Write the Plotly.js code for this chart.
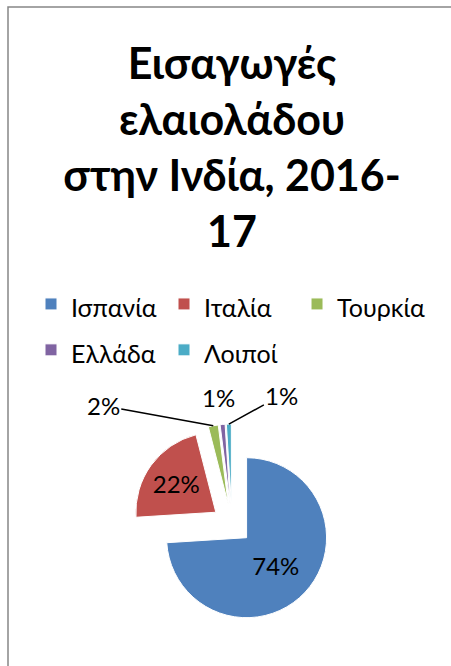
<!DOCTYPE html>
<html>
<head>
<meta charset="utf-8">
<script src="https://cdn.plot.ly/plotly-3.0.1.min.js"></script>
<style>
  html, body { margin: 0; padding: 0; background: #fff; }
  #chart { width: 451px; height: 666px; }
</style>
</head>
<body>
<div id="chart"></div>
<script>
// olive oil imports into India, 2016-17 (share %)
const countries = ['Ισπανία', 'Ιταλία', 'Τουρκία', 'Ελλάδα', 'Λοιποί'];
const shares = [74, 22, 2, 1, 1];
const sliceColors = ['#4F81BD', '#C0504D', '#9BBB59', '#8064A2', '#4BACC6'];
const labelPos = ['inside', 'inside', 'none', 'none', 'none'];

const W = 451, H = 666;
const fontFamily = 'Lato, "Open Sans", "Noto Sans", sans-serif';

// pie center and size in pixels, turned into paper fractions below
const cx = 232, cy = 524, half = 100;
const pull = 0.25;
const radius = half / (1 + pull);

// leader-line label offsets (px) for the thin slices, like excel puts them
const calloutOffsets = [null, null, [-110, -20], [-4, -27], [53, -29]];

const total = shares.reduce((a, b) => a + b, 0);
const callouts = [];
let cum = 0;
shares.forEach((v, i) => {
  const mid = (cum + v / 2) / total * 2 * Math.PI;
  cum += v;
  const off = calloutOffsets[i];
  if (!off) return;
  // outer tip of the pulled slice
  const px = cx + (radius + radius * pull) * Math.sin(mid);
  const py = cy - (radius + radius * pull) * Math.cos(mid);
  const a = {
    x: px / W, y: 1 - py / H, xref: 'paper', yref: 'paper',
    text: Math.round(v / total * 100) + '%',
    font: { family: fontFamily, size: 24, color: '#000' },
    showarrow: true, arrowhead: 0, arrowwidth: 1.5, arrowcolor: '#000',
    ax: off[0], ay: off[1], standoff: 0
  };
  if (countries[i] === 'Ελλάδα') a.arrowcolor = 'rgba(0,0,0,0)';
  callouts.push(a);
});

// legend rows in the original are spaced wider than plotly's default,
// so the legend font is big and the label text itself is set smaller
const legendLabels = countries.map(c => '<span style="font-size:25px">' + c + '</span>');

Plotly.newPlot('chart', [{
  type: 'pie',
  labels: legendLabels,
  values: shares,
  sort: false,
  direction: 'clockwise',
  rotation: 0,
  pull: pull,
  marker: { colors: sliceColors, line: { color: '#ffffff', width: 1 } },
  textinfo: 'percent',
  textposition: labelPos,
  insidetextorientation: 'horizontal',
  textfont: { family: fontFamily, size: 24, color: '#000' },
  domain: {
    x: [(cx - half) / W, (cx + half) / W],
    y: [(H - cy - half) / H, (H - cy + half) / H]
  },
  hoverinfo: 'percent'
}], {
  width: W,
  height: H,
  margin: { l: 0, r: 0, t: 0, b: 0 },
  paper_bgcolor: '#fff',
  title: {
    text: 'Εισαγωγές<br>ελαιολάδου<br>στην Ινδία, 2016-<br>17',
    font: { family: fontFamily, size: 43, weight: 'bold', color: '#000' },
    x: 232 / W,
    xanchor: 'center',
    xref: 'container',
    y: 1 - 79 / H,
    yanchor: 'top',
    yref: 'container'
  },
  showlegend: true,
  legend: {
    orientation: 'h',
    x: 31 / W,
    xanchor: 'left',
    y: 1 - 276 / H,
    yanchor: 'top',
    font: { family: fontFamily, size: 33, color: '#000' },
    traceorder: 'normal'
  },
  annotations: callouts,
  shapes: [{
    type: 'rect',
    xref: 'paper', yref: 'paper',
    x0: 8 / W, x1: 1.05,
    y0: -0.05, y1: 1 - 7 / H,
    line: { color: '#868686', width: 1.5 }
  }]
}, { displayModeBar: false, staticPlot: true });
</script>
</body>
</html>
